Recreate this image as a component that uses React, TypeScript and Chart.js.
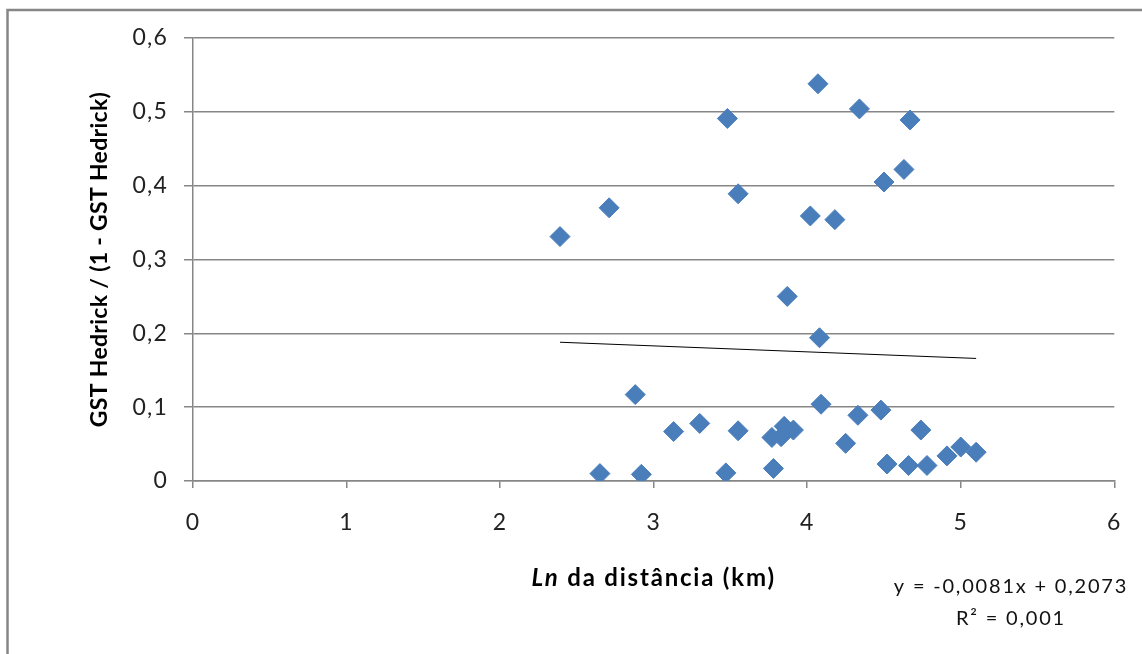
import React, { useEffect, useRef } from "react";
import { Chart, registerables } from "chart.js";

Chart.register(...registerables);

// Ln of distance (km)
const xValues: number[] = [
  2.39, 2.71, 2.65, 2.88, 2.92, 3.13, 3.30, 3.48, 3.47, 3.55, 3.55, 3.78,
  3.77, 3.83, 3.85, 3.91, 3.87, 4.02, 4.07, 4.08, 4.09, 4.18, 4.25, 4.33,
  4.34, 4.48, 4.50, 4.52, 4.63, 4.67, 4.66, 4.74, 4.78, 4.91, 5.00, 5.10,
];
// GST Hedrick / (1 - GST Hedrick)
const yValues: number[] = [
  0.331, 0.370, 0.010, 0.117, 0.009, 0.067, 0.078, 0.491, 0.011, 0.389, 0.068, 0.017,
  0.059, 0.060, 0.074, 0.069, 0.250, 0.359, 0.538, 0.194, 0.104, 0.354, 0.051, 0.089,
  0.504, 0.096, 0.405, 0.023, 0.422, 0.489, 0.021, 0.069, 0.021, 0.034, 0.046, 0.039,
];

const trendSlope = -0.0081;
const trendIntercept = 0.2073;
const equationLabel = "y = -0,0081x + 0,2073";
const r2Label = "R² = 0,001";

const yTitle = "GST Hedrick / (1 - GST Hedrick)";
const xTitleItalic = "Ln";
const xTitleRest = " da distância (km)";

const FONT = "Lato, 'Open Sans', sans-serif";

export default function App() {
  const ref = useRef<HTMLCanvasElement | null>(null);

  useEffect(() => {
    document.body.style.margin = "0";
    const canvas = ref.current;
    if (!canvas) return;

    const points = xValues.map((x, i) => ({ x, y: yValues[i] }));
    const xmin = Math.min(...xValues);
    const xmax = Math.max(...xValues);
    const trend = [
      { x: xmin, y: trendIntercept + trendSlope * xmin },
      { x: xmax, y: trendIntercept + trendSlope * xmax },
    ];

    const decor = {
      id: "decor",
      beforeDraw(chart: any) {
        (chart.ctx as any).letterSpacing = "1.2px";
      },
      afterDraw(chart: any) {
        const ctx = chart.ctx as any;
        const area = chart.chartArea;
        ctx.save();
        ctx.letterSpacing = "0px";
        // outer frame
        ctx.strokeStyle = "#868686";
        ctx.lineWidth = 2.5;
        ctx.strokeRect(7.5, 10, 3000, 3000);

        // y title
        ctx.fillStyle = "#000";
        ctx.letterSpacing = "0.3px";
        ctx.font = `bold 23px ${FONT}`;
        ctx.textAlign = "center";
        ctx.textBaseline = "middle";
        ctx.translate(100, (area.top + area.bottom) / 2);
        ctx.rotate(-Math.PI / 2);
        ctx.fillText(yTitle, 0, 0);
        ctx.setTransform(1, 0, 0, 1, 0, 0);

        // x title
        ctx.letterSpacing = "1.8px";
        const cx = (area.left + area.right) / 2;
        ctx.font = `italic bold 24px ${FONT}`;
        const w1 = ctx.measureText(xTitleItalic).width;
        ctx.font = `bold 24px ${FONT}`;
        const w2 = ctx.measureText(xTitleRest).width;
        const start = cx - (w1 + w2) / 2;
        ctx.textAlign = "left";
        ctx.font = `italic bold 24px ${FONT}`;
        ctx.fillText(xTitleItalic, start, 578);
        ctx.font = `bold 24px ${FONT}`;
        ctx.fillText(xTitleRest, start + w1, 578);

        // equation
        ctx.letterSpacing = "1.8px";
        ctx.font = `20px ${FONT}`;
        ctx.textAlign = "center";
        ctx.fillStyle = "#111";
        ctx.fillText(equationLabel, 1011, 587);
        ctx.fillText(r2Label, 1011, 619);
        ctx.restore();
        ctx.letterSpacing = "0px";
      },
    };

    const chart = new Chart(canvas, {
      type: "scatter",
      data: {
        datasets: [
          {
            label: "data",
            data: points,
            pointStyle: "rectRot",
            pointRadius: 10,
            pointHoverRadius: 10,
            backgroundColor: "#4A7EBB",
            borderColor: "#4A7EBB",
            borderWidth: 1,
          },
          {
            label: "trend",
            data: trend,
            showLine: true,
            pointRadius: 0,
            borderColor: "#000",
            borderWidth: 1,
            fill: false,
          },
        ],
      },
      plugins: [decor],
      options: {
        animation: false,
        responsive: true,
        maintainAspectRatio: false,
        layout: { padding: { top: 38, right: 25, left: 0, bottom: 0 } },
        plugins: {
          legend: { display: false },
          tooltip: { enabled: false },
        },
        scales: {
          x: {
            type: "linear",
            min: 0,
            max: 6,
            afterFit(scale: any) {
              scale.height = 173;
            },
            ticks: {
              stepSize: 1,
              color: "#222",
              font: { family: FONT, size: 23 },
              padding: 21,
              maxRotation: 0,
            },
            grid: {
              drawOnChartArea: false,
              drawTicks: true,
              tickLength: 7,
              color: "#868686",
              lineWidth: 1.5,
            },
            border: { display: true, color: "#868686", width: 1.5 },
          },
          y: {
            type: "linear",
            min: 0,
            max: 0.6,
            afterFit(scale: any) {
              scale.width = 193;
            },
            ticks: {
              stepSize: 0.1,
              color: "#222",
              font: { family: FONT, size: 23 },
              padding: 16,
              callback: (v: any) => {
                const n = Number(v);
                return n === 0 ? "0" : n.toFixed(1).replace(".", ",");
              },
            },
            grid: {
              drawTicks: true,
              tickLength: 9,
              color: "#868686",
              lineWidth: 1.5,
            },
            border: { display: true, color: "#868686", width: 1.5 },
          },
        },
      },
    });

    return () => chart.destroy();
  }, []);

  return (
    <div style={{ width: 1142, height: 654, position: "relative" }}>
      <canvas ref={ref} />
    </div>
  );
}
